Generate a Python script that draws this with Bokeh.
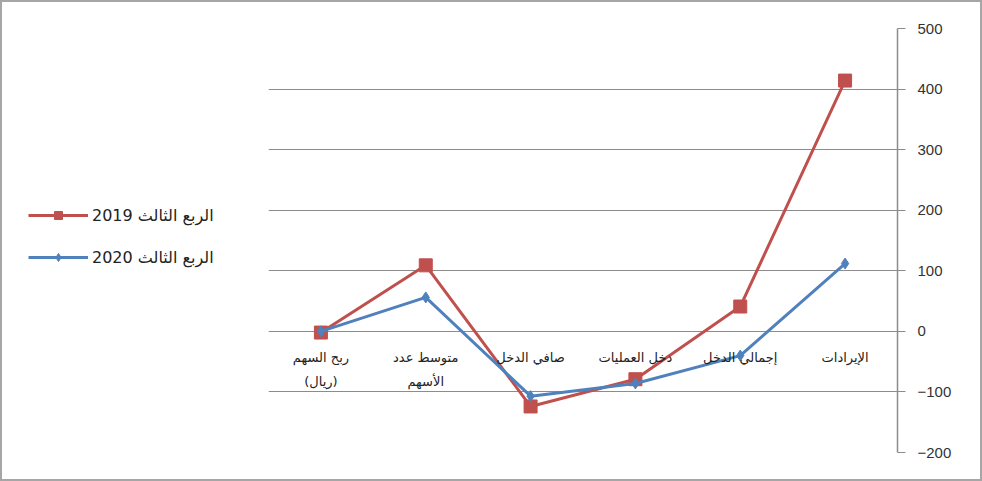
from bokeh.plotting import figure
from bokeh.layouts import row
from bokeh.models import FactorRange, Range1d, Legend, LegendItem, ColumnDataSource, FixedTicker
from bokeh.core.properties import value
from bokeh.embed import file_html
from bokeh.resources import INLINE

# Categories in reading order (right to left on the chart)
categories = ["الإيرادات", "إجمالي الدخل", "دخل العمليات", "صافي الدخل", "متوسط عدد الأسهم", "ربح السهم (ريال)"]
label_lines = [["الإيرادات"], ["إجمالي الدخل"], ["دخل العمليات"], ["صافي الدخل"], ["متوسط عدد", "الأسهم"], ["ربح السهم", "(ريال)"]]
q3_2019 = [414, 41, -79, -124, 109, -2]
q3_2020 = [112, -40, -86, -107, 56, 0]
series_names = ["2019 الربع الثالث", "2020 الربع الثالث"]
y_ticks = [-200, -100, 0, 100, 200, 300, 400, 500]

RED = "#C0504D"
BLUE = "#4F81BD"

src = ColumnDataSource(dict(cat=categories, a=q3_2019, b=q3_2020))

# ---------------- main chart ----------------
p = figure(width=712, height=477, output_backend="svg", toolbar_location=None,
           x_range=FactorRange(factors=list(reversed(categories)), range_padding=0),
           y_range=Range1d(-200, 500), y_axis_location="right",
           min_border_left=0, min_border_right=83, min_border_top=26, min_border_bottom=27)

p.line("cat", "a", source=src, color=RED, line_width=3)
p.scatter("cat", "a", source=src, marker="square", size=13, color=RED)
p.line("cat", "b", source=src, color=BLUE, line_width=3)
p.scatter("cat", "b", source=src, marker="diamond", size=11, color=BLUE)

# category labels below the zero line
lx, ly, lt = [], [], []
for c, lines in zip(categories, label_lines):
    for i, t in enumerate(lines):
        lx.append(c)
        ly.append(-43 - 40 * i)
        lt.append(t)
p.text(x=lx, y=ly, text=lt, text_align="center", text_baseline="middle",
       text_font=value("DejaVu Sans"), text_font_size="13px", text_color="#222222")

p.xaxis.visible = False
p.xgrid.visible = False
p.ygrid.grid_line_color = "#8c8c8c"
p.ygrid.grid_line_width = 1
p.yaxis.ticker = FixedTicker(ticks=y_ticks)
p.yaxis.axis_line_color = "#8c8c8c"
p.yaxis.axis_line_width = 1.5
p.yaxis.major_tick_line_color = "#8c8c8c"
p.yaxis.major_tick_out = 8
p.yaxis.major_tick_in = 0
p.yaxis.minor_tick_line_color = None
p.yaxis.major_label_text_font = "Liberation Sans"
p.yaxis.major_label_text_font_size = "15px"
p.yaxis.major_label_text_color = "#333333"
p.yaxis.major_label_standoff = 12
p.outline_line_color = None

# ---------------- legend panel (left) ----------------
pl = figure(width=266, height=477, output_backend="svg", toolbar_location=None,
            x_range=FactorRange(factors=list(reversed(categories))),
            y_range=Range1d(10000, 10001),
            min_border_left=0, min_border_right=0, min_border_top=0, min_border_bottom=0)
pl.axis.visible = False
pl.grid.visible = False
pl.outline_line_color = None
r1 = pl.line("cat", "a", source=src, color=RED, line_width=3)
s1 = pl.scatter("cat", "a", source=src, marker="square", size=13, color=RED)
r2 = pl.line("cat", "b", source=src, color=BLUE, line_width=3)
s2 = pl.scatter("cat", "b", source=src, marker="diamond", size=11, color=BLUE)

legend = Legend(items=[LegendItem(label=series_names[0], renderers=[r1, s1]),
                       LegendItem(label=series_names[1], renderers=[r2, s2])],
                location=(26, 185), orientation="vertical", margin=0,
                padding=0, spacing=22, glyph_width=60, glyph_height=20, label_height=20,
                label_standoff=4, border_line_color=None, background_fill_alpha=0,
                label_text_font="DejaVu Sans", label_text_font_size="16px", label_text_color="#222222")
pl.add_layout(legend)

layout = row(pl, p, styles={"border": "2px solid #a6a6a6"})

open("out.html", "w").write(file_html(layout, INLINE))
